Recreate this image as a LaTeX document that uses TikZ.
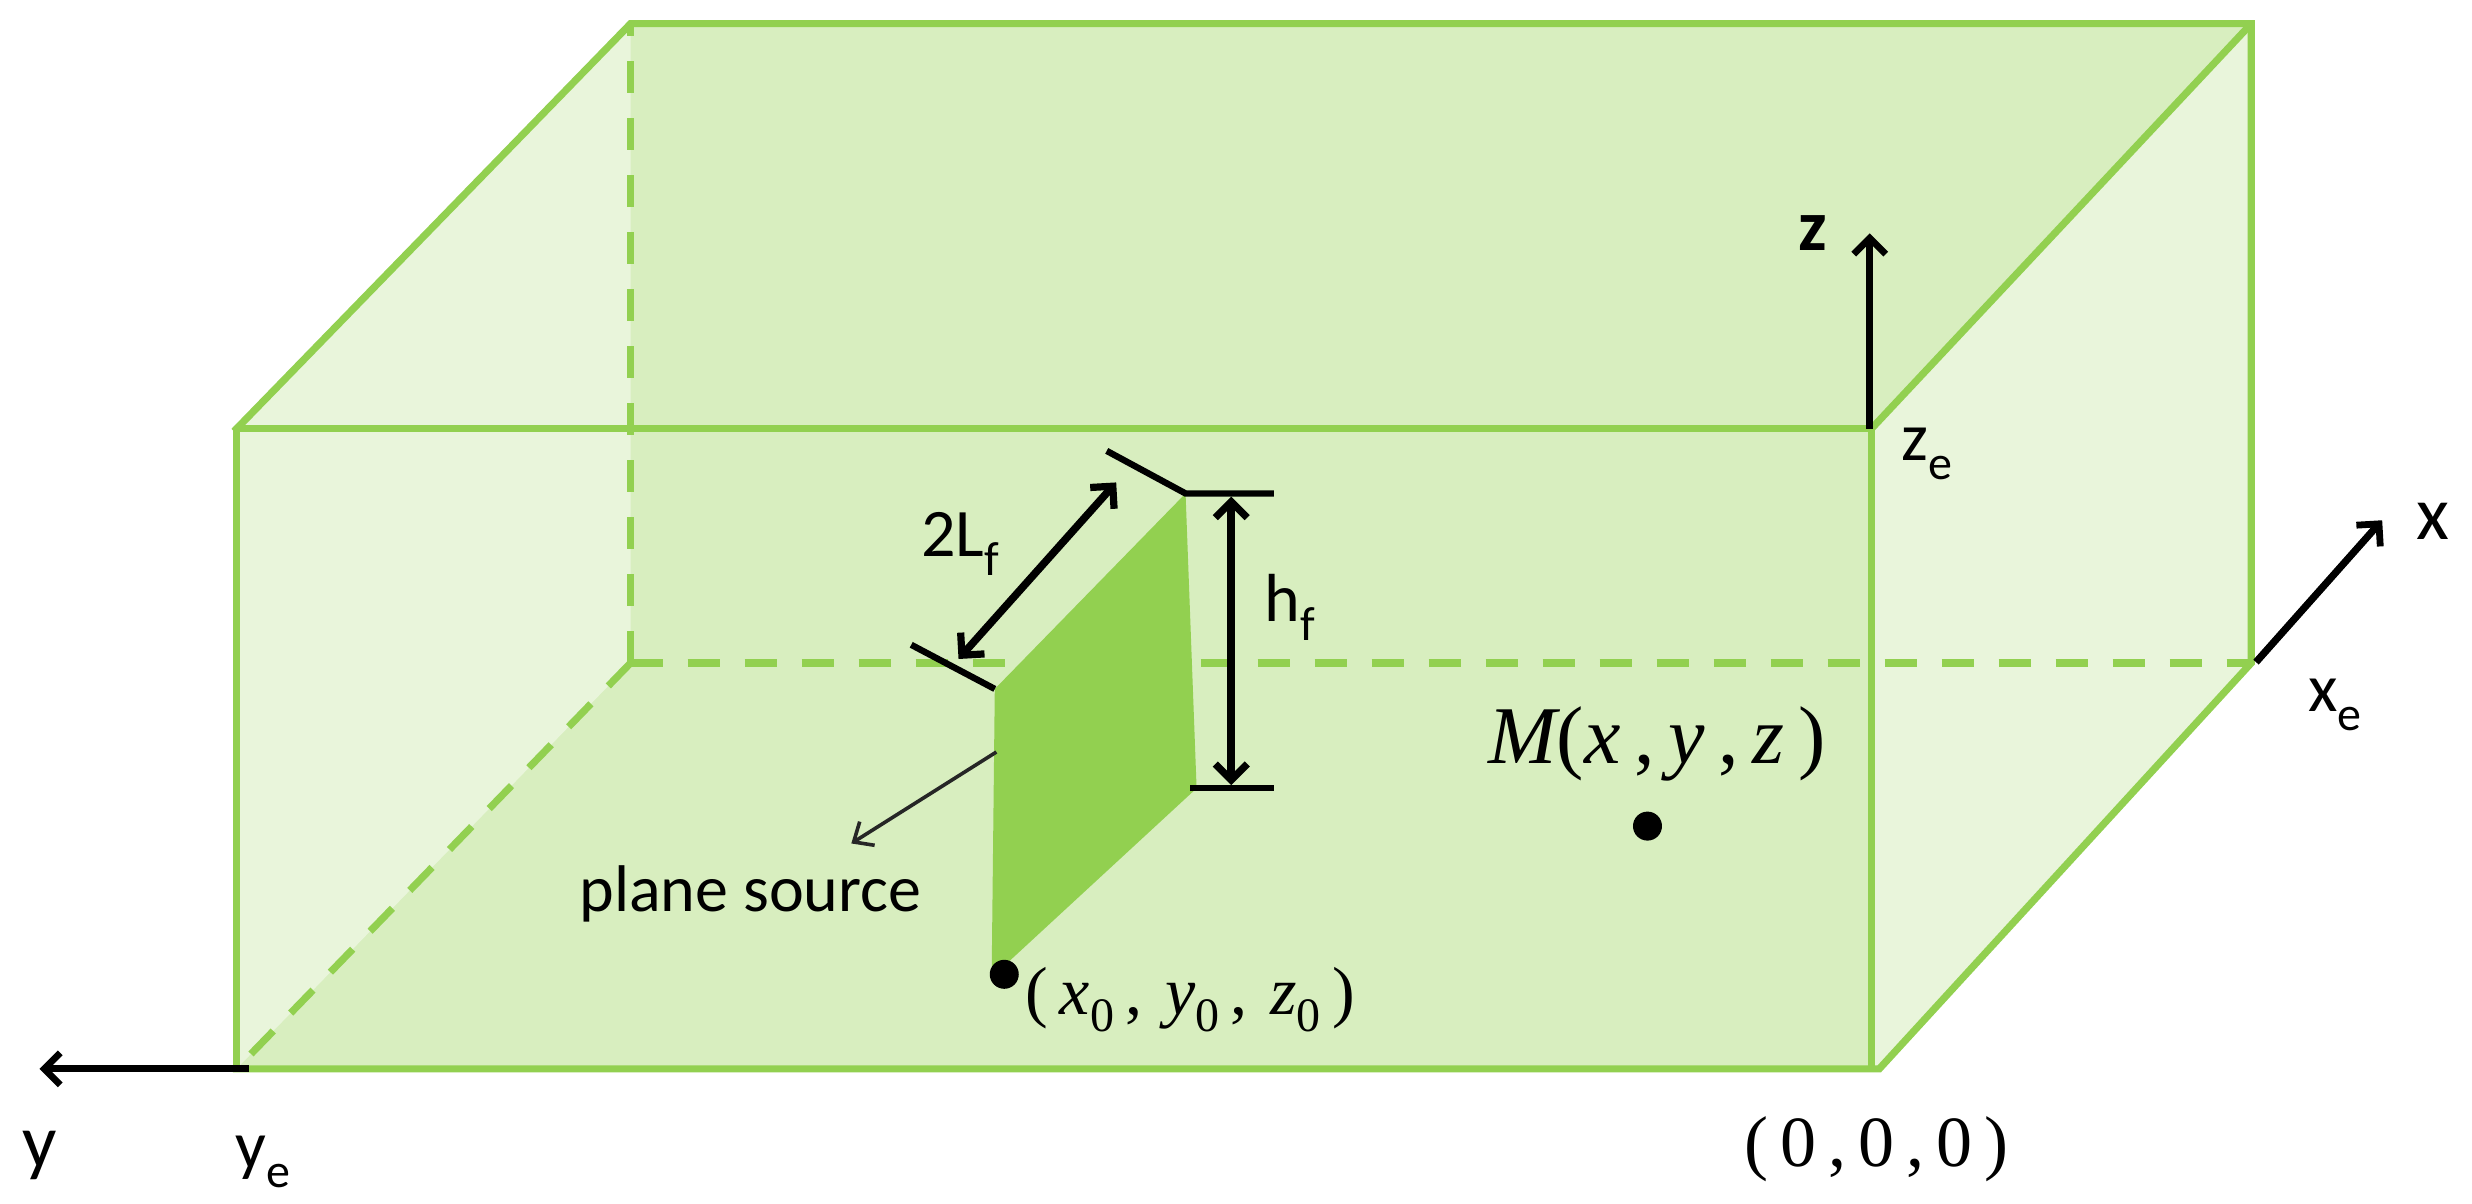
\documentclass[tikz,border=0pt]{standalone}
\usepackage{fontspec}
\setmainfont{Carlito}
\newfontfamily\mathlike{Liberation Serif}
\usetikzlibrary{arrows.meta}
\definecolor{gline}{HTML}{92D050}
\definecolor{gmid}{HTML}{D8EEBF}
\definecolor{glight}{HTML}{E9F5DB}
\newcommand{\sbs}[1]{\raisebox{-.28em}{\fontsize{24}{24}\selectfont #1}}
\newcommand{\sbm}[1]{\raisebox{-.25em}{\fontsize{24}{24}\selectfont #1}}
\tikzset{
  x=0.78827pt,y=-0.78827pt,
  edge/.style={draw=gline,line width=3.6pt,line cap=butt},
  hidden/.style={edge,dash pattern=on 16pt off 12.5pt},
  blk/.style={draw=black,line width=3.2pt,line cap=butt},
  arr/.style={blk,line width=3.6pt,-{Straight Barb[length=8pt,width=16pt,line width=3.4pt]}},
  darr/.style={blk,line width=3.8pt,{Straight Barb[length=8pt,width=16pt,line width=3.6pt]}-{Straight Barb[length=8pt,width=16pt,line width=3.6pt]}},
  thin leader/.style={draw=black!85,line width=1.8pt,-{Straight Barb[length=8pt,width=14pt,line width=1.8pt]}},
  lab/.style={font=\fontsize{34}{34}\selectfont,inner sep=0pt,text=black},
  mlab/.style={font=\mathlike\fontsize{36}{36}\selectfont,inner sep=0pt,text=black},
  pt/.style={circle,fill=black,inner sep=0pt,minimum size=14.5pt}
}
\begin{document}
\begin{tikzpicture}
\useasboundingbox (0,0) rectangle (1568,763.7);
\coordinate (FTL) at (150,272); \coordinate (FTR) at (1187,272);
\coordinate (FBL) at (150,678); \coordinate (FBR) at (1187,678);
\coordinate (BTL) at (400,15); \coordinate (BTR) at (1428,15);
\coordinate (BBL) at (400,420.5); \coordinate (BBR) at (1428,420.5);
\coordinate (FBRe) at (1192,678);
\fill[gmid] (FTL)--(BTL)--(BTR)--(BBR)--(FBRe)--(FBL)--cycle;
\fill[glight] (FTL)--(BTL)--(BBL)--(FBL)--cycle;
\fill[glight] (FTR)--(BTR)--(BBR)--(FBRe)--(FBR)--cycle;
\draw[hidden] (BBL)--(BBR);
\draw[hidden] (BBL)--(BTL);
\draw[hidden] (BBL)--(FBL);
\draw[edge] (FTL)--(FTR)--(FBR);
\draw[edge] (FTL)--(FBL);
\draw[edge,line cap=rect] (FBL)--(FBRe)--(BBR)--(BTR)--(BTL)--(FTL);
\draw[edge] (FTR)--(BTR);
\coordinate (S1) at (631,437); \coordinate (S2) at (752,313); \coordinate (S3) at (759,500); \coordinate (S4) at (629,620);
\fill[gline] (S1)--(S2)--(S3)--(S4)--cycle;
\coordinate (T1a) at (702,286); \coordinate (T2a) at (578,409);
\coordinate (H1) at (808,313); \coordinate (H2a) at (755,500); \coordinate (H2) at (808,500);
\draw[blk] (T1a)--(S2)--(H1);
\draw[blk] (T2a)--(S1);
\draw[blk] (H2a)--(H2);
\coordinate (D1) at (781,315); \coordinate (D2) at (781,498);
\coordinate (L1) at (708,306); \coordinate (L2) at (608,418);
\draw[darr] (D1)--(D2);
\draw[darr] (L1)--(L2);
\coordinate (Lead) at (632,477); \coordinate (LeadE) at (540,535);
\draw[thin leader] (Lead)--(LeadE);
\coordinate (ZE) at (1186,148); \coordinate (ZS) at (1186,272); \coordinate (Xs) at (1431,420); \coordinate (XE) at (1511,330);
\coordinate (Ys) at (158,678); \coordinate (YE) at (25,678);
\draw[arr] (ZS)--(ZE);
\draw[arr] (Xs)--(XE);
\draw[arr] (Ys)--(YE);
\node[pt] (pM) at (1045,524) {};
\node[pt] (p0) at (637,618) {};
\node[lab,font=\fontsize{36}{36}\selectfont\bfseries] (lz) at (1150,148) {z};
\node[lab] (lze) at (1222,288) {z\sbs{e}};
\node[lab,font=\fontsize{38}{38}\selectfont] (lx) at (1543,331) {x};
\node[lab] (lxe) at (1481,447) {x\sbs{e}};
\node[lab,font=\fontsize{38}{38}\selectfont] (ly) at (25,733) {y};
\node[lab] (lye) at (167,737) {y\sbs{e}};
\node[lab] (lL) at (609,345) {2L\sbs{f}};
\node[lab] (lh) at (818,385) {h\sbs{f}};
\node[lab,font=\fontsize{33}{33}\selectfont] (lsrc) at (476,567) {plane source};
\node[mlab,font=\mathlike\fontsize{41}{41}\selectfont] (lM) at (1051,472) {\itshape M\upshape(\itshape x\upshape\,,\,\itshape y\upshape\,,\,\itshape z\upshape\,)};
\node[mlab,font=\mathlike\fontsize{34}{34}\selectfont] (l0) at (755,634) {(\,\itshape x\sbm{\upshape 0}\upshape\,,\,\,\itshape y\sbm{\upshape 0}\upshape\,,\,\,\itshape z\sbm{\upshape 0}\upshape\,)};
\node[mlab] (l000) at (1190,729) {(\,0\,,\,0\,,\,0\,)};
\end{tikzpicture}
\end{document}
